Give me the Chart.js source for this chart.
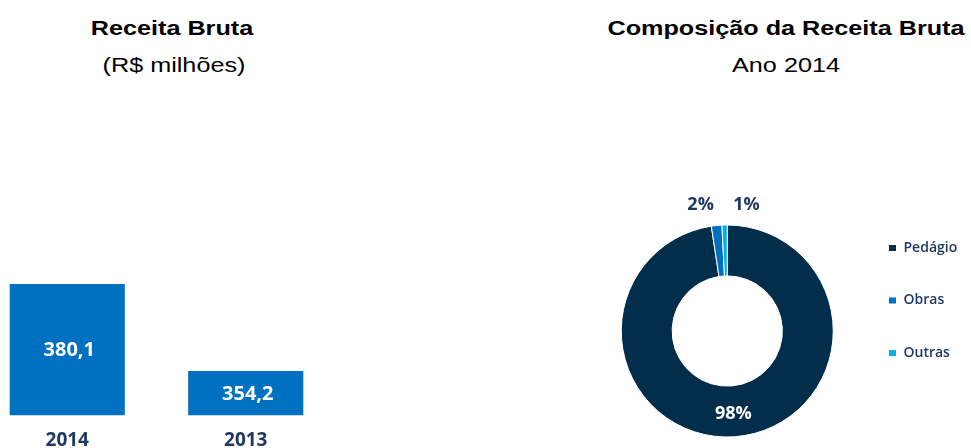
<!DOCTYPE html>
<html>
<head>
<meta charset="utf-8">
<script src="https://cdn.jsdelivr.net/npm/chart.js@4.4.1/dist/chart.umd.min.js"></script>
<style>
  html, body { margin: 0; padding: 0; width: 971px; height: 448px; overflow: hidden; background: #fff; position: relative; }
  .t { position: absolute; width: 400px; text-align: center; font-family: "Liberation Sans", Arial, sans-serif;
       font-size: 20px; line-height: 20px; color: #000; white-space: nowrap; transform: scaleX(1.26); }
  .b { font-weight: bold; }
  #barBox { position: absolute; left: -22px; top: 0; width: 357px; height: 466px; }
  #pieBox { position: absolute; left: 600px; top: 0; width: 371px; height: 460px; }
</style>
</head>
<body>
<div class="t b" style="left:-28px;top:18px">Receita Bruta</div>
<div class="t" style="left:-26px;top:55px">(R$ milhões)</div>
<div class="t b" style="left:586px;top:18px">Composição da Receita Bruta</div>
<div class="t" style="left:586px;top:55px">Ano 2014</div>

<div id="barBox"><canvas id="bars"></canvas></div>
<div id="pieBox"><canvas id="pie"></canvas></div>

<script>
// receita bruta (R$ milhões)
const barYears = ['2014', '2013'];
const barValues = [380.1, 354.2];

// composição 2014 (%)
const pieNames = ['Pedágio', 'Obras', 'Outras'];
const pieValues = [97.6, 1.6, 0.8];

const navy = '#1F3864';
const pieColors = ['#022D4B', '#0070C0', '#00B0F0'];

// white value labels inside bars (axis does not start at zero, so use the visible bottom)
const valueLabels = {
  id: 'valueLabels',
  afterDatasetsDraw(chart) {
    const ctx = chart.ctx;
    const meta = chart.getDatasetMeta(0);
    const bottom = chart.chartArea.bottom;
    ctx.save();
    ctx.fillStyle = '#ffffff';
    ctx.font = 'bold 20px "Open Sans"';
    ctx.textAlign = 'center';
    ctx.textBaseline = 'middle';
    meta.data.forEach((bar, i) => {
      const base = Math.min(bar.base, bottom);
      const txt = barValues[i].toFixed(1).replace('.', ',');
      ctx.fillText(txt, bar.x + 2, (bar.y + base) / 2 + 1);
    });
    ctx.restore();
  }
};

new Chart(document.getElementById('bars'), {
  type: 'bar',
  data: {
    labels: barYears,
    datasets: [{
      data: barValues,
      backgroundColor: '#0070C0',
      borderWidth: 0,
      barPercentage: 0.645,
      categoryPercentage: 1
    }]
  },
  options: {
    responsive: true,
    maintainAspectRatio: false,
    animation: false,
    layout: { padding: { top: 150, left: 0, right: 0, bottom: 0 } },
    plugins: { legend: { display: false }, tooltip: { enabled: false } },
    scales: {
      x: {
        grid: { display: false, drawTicks: false },
        border: { display: false },
        ticks: { color: navy, padding: 14, font: { family: 'Open Sans', size: 19, weight: 'bold' } }
      },
      y: { display: false, min: 341, max: 420 }
    }
  },
  plugins: [valueLabels]
});

// percentage labels for the doughnut
const pieLabels = {
  id: 'pieLabels',
  afterDatasetsDraw(chart) {
    const ctx = chart.ctx;
    const arcs = chart.getDatasetMeta(0).data;
    ctx.save();
    ctx.font = 'bold 18px "Open Sans"';
    ctx.textAlign = 'center';
    ctx.textBaseline = 'middle';
    arcs.forEach((arc, i) => {
      const txt = Math.round(pieValues[i]) + '%';
      if (i === 0) {
        const p = arc.getCenterPoint();
        ctx.fillStyle = '#fff';
        ctx.fillText(txt, p.x, p.y + 3);
      } else {
        const mid = (arc.startAngle + arc.endAngle) / 2;
        const x = arc.x + Math.cos(mid) * arc.outerRadius;
        ctx.fillStyle = navy;
        ctx.fillText(txt, x + (i === 1 ? -16 : 22), arc.y - arc.outerRadius - 20);
      }
    });
    ctx.restore();
  }
};

new Chart(document.getElementById('pie'), {
  type: 'doughnut',
  data: {
    labels: pieNames,
    datasets: [{
      data: pieValues,
      backgroundColor: pieColors,
      borderColor: '#fff',
      borderWidth: 1
    }]
  },
  options: {
    responsive: true,
    maintainAspectRatio: false,
    animation: false,
    radius: 106,
    cutout: '52%',
    layout: { padding: { top: 202.5, left: 4.5, right: 11, bottom: 0.5 } },
    plugins: {
      tooltip: { enabled: false },
      legend: {
        position: 'right',
        align: 'start',
        maxWidth: 110,
        labels: {
          boxWidth: 8,
          boxHeight: 7,
          padding: 38.5,
          color: navy,
          font: { family: 'Open Sans', size: 14, weight: '600' }
        }
      }
    }
  },
  plugins: [pieLabels]
});
</script>
</body>
</html>
